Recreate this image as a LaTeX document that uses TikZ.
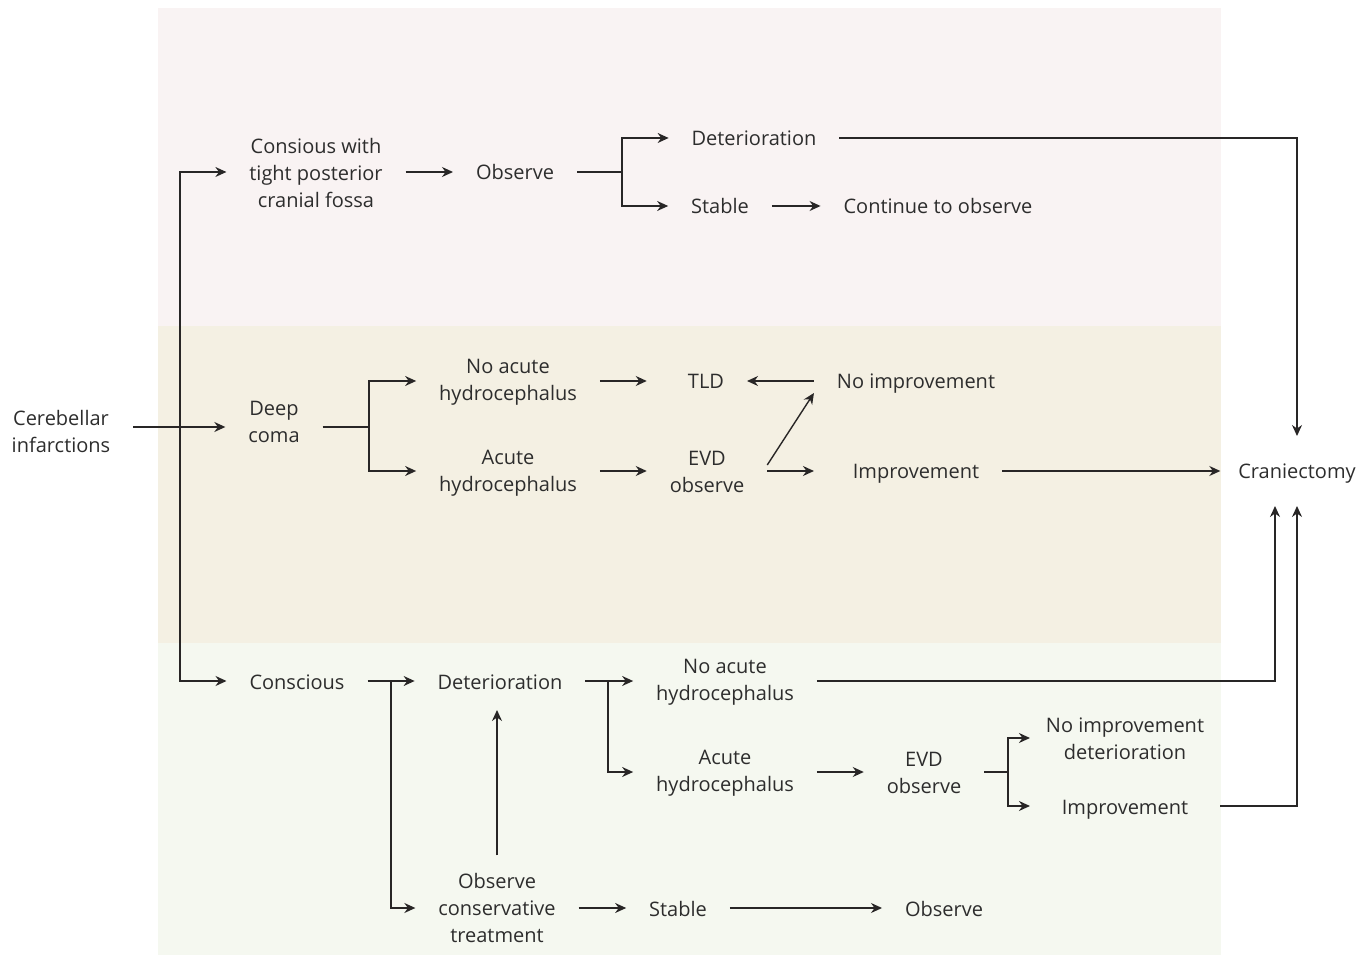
\documentclass[tikz,border=0pt]{standalone}
\usepackage{fontspec}
\setmainfont{Open Sans}
\usetikzlibrary{arrows.meta}
\definecolor{bgtop}{RGB}{249,243,243}
\definecolor{bgmid}{RGB}{244,240,227}
\definecolor{bgbot}{RGB}{245,248,240}
\definecolor{txt}{RGB}{45,45,45}
\definecolor{lc}{RGB}{40,38,38}
\begin{document}
\begin{tikzpicture}[x=0.5pt,y=-0.5pt,
  every node/.style={font=\fontsize{10}{13.5}\selectfont, text=txt, inner xsep=11.5pt, inner ysep=3pt, outer sep=0pt},
  one/.style={text height=9pt, text depth=1pt},
  multi/.style={align=center},
  ln/.style={draw=lc, line width=0.7pt},
  arr/.style={ln, -{Stealth[length=5.5pt,width=5pt]}}]
\useasboundingbox (0,0) rectangle (1370,956);
\fill[bgtop] (158,8) rectangle (1221,326);
\fill[bgmid] (158,326) rectangle (1221,643);
\fill[bgbot] (158,643) rectangle (1221,955);

% nodes
\node[multi] (cer) at (61,432) {Cerebellar\\infarctions};
\node[multi] (coma) at (274,422) {Deep\\coma};
\node[multi] (cons) at (316,173) {Consious with\\tight posterior\\cranial fossa};
\node[one] (obs1) at (515,172) {Observe};
\node[one] (det1) at (754,138) {Deterioration};
\node[one] (stab1) at (720,206) {Stable};
\node[one] (cont) at (938,206) {Continue to observe};
\node[multi] (nah1) at (508,382) {No acute\\hydrocephalus};
\node[multi] (ah1) at (508,473) {Acute\\hydrocephalus};
\node[one] (tld) at (706,381) {TLD};
\node[multi] (evd1) at (707,472) {EVD\\observe};
\node[one] (noimp1) at (916,381) {No improvement};
\node[one] (imp1) at (916,471) {Improvement};
\node[one, inner xsep=9pt, inner ysep=12.5pt] (cran) at (1297,471) {Craniectomy};
\node[one] (consc) at (297,681) {Conscious};
\node[one] (det2) at (500,681) {Deterioration};
\node[multi] (nah2) at (725,682) {No acute\\hydrocephalus};
\node[multi] (ah2) at (725,773) {Acute\\hydrocephalus};
\node[multi] (evd2) at (924,773) {EVD\\observe};
\node[multi, inner xsep=8pt] (noimp2) at (1125,739) {No improvement\\deterioration};
\node[one] (imp2) at (1125,806) {Improvement};
\node[multi] (ocons) at (497,908) {Observe\\conservative\\treatment};
\node[one] (stab2) at (678,908) {Stable};
\node[one] (obs2) at (944,908) {Observe};

% junctions
\coordinate (tr) at (180,427);
\coordinate (b1) at (622,172);
\coordinate (b2) at (369,427);
\coordinate (b3) at (391,681);
\coordinate (b4) at (608,681);
\coordinate (b5) at (1008,772);

% connectors
\draw[arr] (cer.east |- b2) -- (coma.west |- b2);
\draw[arr] (tr) |- (cons.west |- b1);
\draw[arr] (tr) |- (consc.west);
\draw[arr] (cons.east |- b1) -- (obs1);
\draw[ln] (obs1) -- (b1);
\draw[arr] (b1) |- (det1);
\draw[arr] (b1) |- (stab1);
\draw[arr] (det1) -| (cran);
\draw[arr] (stab1) -- (cont);
\draw[ln] (coma.east |- b2) -- (b2);
\draw[arr] (b2) |- (nah1.west |- tld);
\draw[arr] (b2) |- (ah1.west |- imp1);
\draw[arr] (nah1.east |- tld) -- (tld -| evd1.west);
\draw[arr] (noimp1) -- (tld);
\draw[arr] (ah1.east |- imp1) -- (imp1 -| evd1.west);
\draw[arr] ([yshift=3pt]evd1.east |- imp1) -- ([yshift=2pt]noimp1.south west);
\draw[arr] (evd1.east |- imp1) -- (imp1 -| noimp1.west);
\draw[arr] (imp1) -- (cran);
\draw[arr] (consc) -- (det2);
\draw[arr] (b3) |- (ocons);
\draw[arr] (det2) -- (nah2.west |- det2);
\draw[arr] (b4) |- (ah2.west |- b5);
\draw[arr, shorten <=6pt, shorten >=6.5pt] (ocons.north) -- (ocons.north |- det2.south);
\draw[arr] (nah2.east |- det2) -| ([xshift=-11pt]cran.south);
\draw[arr] (ah2.east |- b5) -- (evd2.west |- b5);
\draw[ln] (evd2.east |- b5) -- (b5);
\draw[arr] (b5) |- (noimp2.west |- 0,738);
\draw[arr] (b5) |- (imp2 -| noimp2.west);
\draw[arr] (imp2 -| noimp2.east) -| (cran);
\draw[arr] (ocons) -- (stab2);
\draw[arr] (stab2) -- (obs2);
\end{tikzpicture}
\end{document}
